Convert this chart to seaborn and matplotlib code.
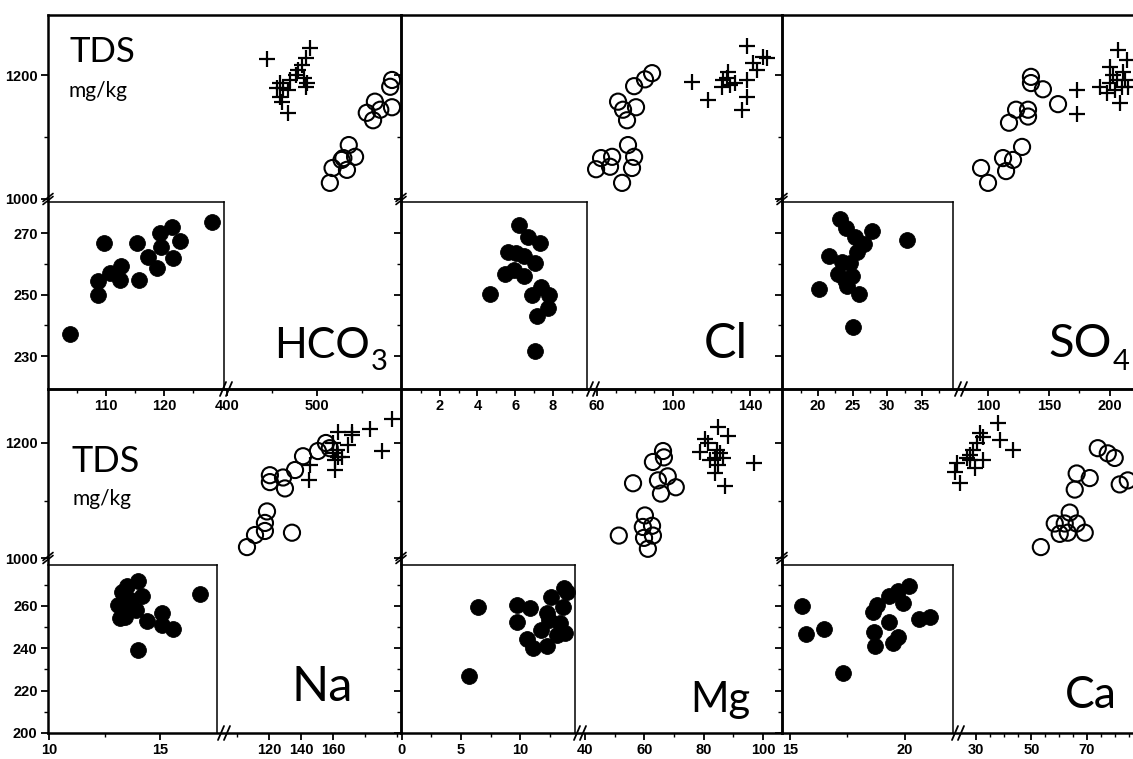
import matplotlib
matplotlib.use("Agg")
import matplotlib.pyplot as plt
import seaborn as sns
import pandas as pd
from matplotlib.lines import Line2D

# ------------------------------------------------------------------ data
# HCO3 panel
hco3_cross_x = [444, 492, 487, 483, 479, 476, 470, 459, 462, 467, 459, 461, 467, 489, 487, 455, 485]
hco3_cross_tds = [1226, 1243, 1227, 1216, 1208, 1200, 1192, 1187, 1179, 1176, 1165, 1157, 1139, 1187, 1181, 1179, 1195]
hco3_open_x = [583, 581, 583, 564, 555, 562, 570, 535, 542, 527, 533, 517, 514, 529]
hco3_open_tds = [1192, 1181, 1148, 1157, 1139, 1127, 1144, 1087, 1068, 1063, 1047, 1050, 1026, 1066]
hco3_fill_x = [103.8, 108.6, 108.6, 109.7, 110.6, 112.6, 112.4, 115.4, 115.6, 117.3, 118.8, 119.3, 119.5, 121.3, 121.5, 122.8, 128.3]
hco3_fill_y = [237.1, 249.8, 254.4, 266.7, 257.0, 259.3, 254.7, 266.7, 254.7, 262.2, 258.6, 270.0, 265.4, 272.0, 261.9, 267.4, 273.6]

# Cl panel
cl_cross_x = [138.5, 109.7, 118.1, 135.9, 138.5, 138.5, 128.6, 126.0, 125.4, 129.6, 132.3, 141.7, 143.8, 146.9, 149.0, 128.0]
cl_cross_tds = [1247, 1189, 1160, 1144, 1165, 1192, 1205, 1192, 1181, 1184, 1187, 1219, 1208, 1229, 1227, 1195]
cl_open_x = [88.8, 85.1, 79.4, 71.0, 73.6, 80.4, 75.7, 76.2, 79.4, 78.3, 67.9, 66.8, 62.1, 59.5, 73.1]
cl_open_tds = [1203, 1193, 1182, 1157, 1144, 1148, 1127, 1087, 1068, 1050, 1068, 1052, 1066, 1048, 1026]
cl_fill_x = [6.22, 6.65, 7.29, 5.64, 6.06, 6.44, 7.02, 5.48, 5.96, 6.49, 4.68, 6.91, 7.39, 7.77, 7.71, 7.13, 7.02]
cl_fill_y = [272.6, 268.7, 266.7, 263.8, 263.5, 262.5, 260.2, 256.6, 258.0, 256.0, 250.1, 249.8, 252.4, 249.8, 245.6, 243.0, 231.6]

# SO4 panel
so4_cross_x = [173, 173, 191.8, 197.5, 200, 206.6, 213.9, 208, 205.7, 209.8, 202.5, 212.3, 200, 210.7, 204, 214.8]
so4_cross_tds = [1176, 1137, 1181, 1171, 1213, 1240, 1224, 1155, 1192, 1181, 1200, 1192, 1187, 1205, 1176, 1181]
so4_open_x = [135.2, 135.2, 145.0, 157.4, 123.0, 132.8, 132.8, 117.2, 127.9, 120.5, 112.3, 114.8, 94.3, 100.0]
so4_open_tds = [1197, 1187, 1177, 1153, 1144, 1144, 1133, 1123, 1084, 1063, 1066, 1045, 1050, 1026]
so4_fill_x = [23.2, 24.1, 27.8, 32.8, 25.4, 26.7, 25.7, 21.6, 23.5, 24.6, 22.9, 24.9, 23.9, 24.2, 20.1, 25.9, 25.1]
so4_fill_y = [274.6, 271.6, 270.7, 267.7, 268.7, 266.4, 263.8, 262.5, 260.6, 260.2, 256.6, 256.0, 254.7, 252.7, 251.8, 250.1, 239.4]

# Na panel
na_cross_x = [145.6, 145.0, 161.3, 161.3, 160.0, 163.0, 165.6, 162.5, 160.0, 163.0, 169.4, 171.9, 171.9, 183.1, 190.6, 196.9]
na_cross_tds = [1161, 1135, 1153, 1170, 1182, 1175, 1175, 1188, 1200, 1219, 1196, 1219, 1214, 1225, 1186, 1242]
na_open_x = [106.3, 111.3, 117.5, 117.5, 118.8, 134.4, 120.6, 120.6, 128.8, 130.0, 136.3, 141.3, 150.6, 155.6, 158.0]
na_open_tds = [1019, 1040, 1047, 1061, 1081, 1044, 1144, 1132, 1140, 1121, 1153, 1177, 1186, 1200, 1191]
na_fill_x = [14.0, 13.5, 13.3, 14.2, 13.7, 13.1, 13.6, 13.9, 13.2, 13.4, 14.4, 15.1, 15.1, 15.6, 16.8, 14.0]
na_fill_y = [271.7, 269.4, 266.6, 264.7, 262.8, 260.5, 260.5, 258.1, 254.4, 254.8, 253.0, 256.7, 251.1, 249.2, 265.6, 239.3]

# Mg panel
mg_cross_x = [84.8, 88.1, 80.4, 78.7, 84.4, 82.1, 83.8, 86.5, 84.8, 83.8, 87.1, 96.9, 81.4, 85.5]
mg_cross_tds = [1228, 1212, 1207, 1184, 1188, 1170, 1174, 1174, 1161, 1147, 1126, 1165, 1200, 1182]
mg_open_x = [66.3, 66.6, 62.9, 56.2, 64.6, 67.9, 70.6, 65.6, 60.2, 62.6, 59.5, 62.9, 59.9, 51.4, 61.2]
mg_open_tds = [1186, 1175, 1167, 1130, 1135, 1142, 1123, 1112, 1074, 1056, 1054, 1039, 1035, 1039, 1016]
mg_fill_x = [6.4, 5.7, 9.75, 10.8, 9.7, 12.6, 13.7, 13.9, 13.6, 12.25, 12.4, 13.3, 11.7, 13.1, 13.75, 10.6, 11.1, 12.25]
mg_fill_y = [259.5, 227.1, 260.5, 259.1, 252.5, 264.2, 268.5, 266.6, 259.5, 256.7, 253.4, 252.0, 248.7, 246.4, 247.3, 244.5, 240.3, 241.2]

# Ca panel
ca_cross_x = [37.9, 38.6, 43.3, 31.4, 32.5, 28.9, 27.8, 26.8, 32.5, 29.6, 23.2, 22.4, 24.2, 27.8, 30.4]
ca_cross_tds = [1235, 1205, 1188, 1218, 1211, 1188, 1179, 1174, 1170, 1156, 1165, 1149, 1130, 1170, 1200]
ca_open_x = [73.9, 77.5, 80.0, 81.8, 84.7, 66.3, 71.0, 65.6, 63.8, 58.4, 62.0, 66.3, 60.2, 63.1, 69.2, 53.4]
ca_open_tds = [1191, 1182, 1174, 1128, 1135, 1147, 1139, 1119, 1079, 1060, 1060, 1060, 1042, 1044, 1044, 1019]
ca_fill_x = [15.5, 15.7, 16.5, 17.3, 18.6, 18.8, 19.3, 19.7, 20.2, 19.9, 19.3, 18.65, 18.7, 19.5, 19.7, 20.6, 21.1]
ca_fill_y = [260.0, 246.9, 249.2, 228.1, 257.2, 260.5, 264.7, 267.0, 269.4, 261.4, 252.5, 247.8, 240.8, 242.6, 245.4, 253.9, 254.8]

# tick values
tds_major = [1000, 1200]
tds_minor = [1100]
row1_inset_major = [230, 250, 270]
row1_inset_minor = [240, 260]
row2_inset_major = [200, 220, 240, 260]
row2_inset_minor = [210, 230, 250, 270]

hco3_in_major, hco3_in_minor = [110, 120], [105, 115, 125]
hco3_big_major, hco3_big_minor = [400, 500], [450, 550]
cl_in_major, cl_in_minor = [2, 4, 6, 8], [1, 3, 5, 7, 9]
cl_big_major, cl_big_minor = [60, 100, 140], [70, 80, 90, 110, 120, 130, 150]
so4_in_major, so4_in_minor = [20, 25, 30, 35], [17.5, 22.5, 27.5, 32.5, 37.5]
so4_big_major, so4_big_minor = [100, 150, 200], [125, 175, 225]
na_in_major, na_in_minor = [10, 15], [12.5]
na_big_major, na_big_minor = [120, 140, 160], [100, 180, 200]
mg_in_major, mg_in_minor = [0, 5, 10], [2.5, 7.5, 12.5]
mg_big_major, mg_big_minor = [40, 60, 80, 100], [50, 70, 90]
ca_in_major, ca_in_minor = [15, 20], [17.5]
ca_big_major, ca_big_minor = [30, 50, 70], [35, 40, 45, 55, 60, 65, 75, 80, 85, 90, 95]

# ------------------------------------------------------------------ style
sns.set_theme(style="ticks")
TICKFONT = ["Liberation Sans Narrow", "Liberation Sans", "DejaVu Sans"]
LABELFONT = ["Lato", "DejaVu Sans"]
plt.rcParams["font.family"] = TICKFONT
plt.rcParams["text.color"] = "black"

W, H = 1133, 759
fig = plt.figure(figsize=(W / 100, H / 100), dpi=100)
fig.patch.set_facecolor("white")


def rect(x0, x1, y0, y1):
    return [x0 / W, 1 - y1 / H, (x1 - x0) / W, (y1 - y0) / H]


def fline(xs, ys, lw=1.3):
    fig.add_artist(Line2D([x / W for x in xs], [1 - y / H for y in ys],
                          transform=fig.transFigure, color="black", lw=lw))


col_edges = [48, 401, 782, 1160]
rows = [
    dict(top=15, bottom=389, brk=199, inset_top=202, big_ylim=(693.5, 1296.8),
         in_ylim=(219.3, 280.1), in_major=row1_inset_major, in_minor=row1_inset_minor),
    dict(top=389, bottom=733, brk=558, inset_top=565, big_ylim=(695.7, 1293.9),
         in_ylim=(200.0, 279.2), in_major=row2_inset_major, in_minor=row2_inset_minor),
]

panels = [
    dict(row=0, col=0, cx=hco3_cross_x, cy=hco3_cross_tds, ox=hco3_open_x, oy=hco3_open_tds,
         fx=hco3_fill_x, fy=hco3_fill_y, big_xlim=(201, 593), in_xlim=(100, 130.3), in_right=224,
         brk_x=226, in_major=hco3_in_major, in_minor=hco3_in_minor,
         big_major=hco3_big_major, big_minor=hco3_big_minor),
    dict(row=0, col=1, cx=cl_cross_x, cy=cl_cross_tds, ox=cl_open_x, oy=cl_open_tds,
         fx=cl_fill_x, fy=cl_fill_y, big_xlim=(-42.6, 156.8), in_xlim=(-0.05, 9.8), in_right=587,
         brk_x=593, in_major=cl_in_major, in_minor=cl_in_minor,
         big_major=cl_big_major, big_minor=cl_big_minor),
    dict(row=0, col=2, cx=so4_cross_x, cy=so4_cross_tds, ox=so4_open_x, oy=so4_open_tds,
         fx=so4_fill_x, fy=so4_fill_y, big_xlim=(-68.9, 241), in_xlim=(14.8, 39.5), in_right=953,
         brk_x=961, in_major=so4_in_major, in_minor=so4_in_minor,
         big_major=so4_big_major, big_minor=so4_big_minor),
    dict(row=1, col=0, cx=na_cross_x, cy=na_cross_tds, ox=na_open_x, oy=na_open_tds,
         fx=na_fill_x, fy=na_fill_y, big_xlim=(-18, 202.5), in_xlim=(9.95, 17.57), in_right=217,
         brk_x=224, in_major=na_in_major, in_minor=na_in_minor,
         big_major=na_big_major, big_minor=na_big_minor),
    dict(row=1, col=1, cx=mg_cross_x, cy=mg_cross_tds, ox=mg_open_x, oy=mg_open_tds,
         fx=mg_fill_x, fy=mg_fill_y, big_xlim=(-22, 106.4), in_xlim=(-0.05, 14.6), in_right=575,
         brk_x=580, in_major=mg_in_major, in_minor=mg_in_minor,
         big_major=mg_big_major, big_minor=mg_big_minor),
    dict(row=1, col=2, cx=ca_cross_x, cy=ca_cross_tds, ox=ca_open_x, oy=ca_open_tds,
         fx=ca_fill_x, fy=ca_fill_y, big_xlim=(-39.8, 96.3), in_xlim=(14.65, 22.1), in_right=953,
         brk_x=958, in_major=ca_in_major, in_minor=ca_in_minor,
         big_major=ca_big_major, big_minor=ca_big_minor),
]


def fmt(v):
    return str(int(v)) if float(v).is_integer() else str(v)


def style_ticks(ax):
    ax.tick_params(which="major", direction="out", length=5, width=1.3, color="black",
                   labelsize=10.5, pad=2.5, labelcolor="black")
    ax.tick_params(which="minor", direction="out", length=3, width=1.0, color="black")
    for lab in ax.get_xticklabels() + ax.get_yticklabels():
        lab.set_fontweight("bold")
        lab.set_family(TICKFONT)


# big axes first (transparent), then insets on top
for p in panels:
    r = rows[p["row"]]
    x0, x1 = col_edges[p["col"]], col_edges[p["col"] + 1]
    ax = fig.add_axes(rect(x0, x1, r["top"], r["bottom"]))
    ax.patch.set_alpha(0)
    dfc = pd.DataFrame({"x": p["cx"], "y": p["cy"]})
    dfo = pd.DataFrame({"x": p["ox"], "y": p["oy"]})
    sns.scatterplot(data=dfo, x="x", y="y", ax=ax, marker="o", s=135,
                    facecolor="none", edgecolor="black", linewidth=1.5, legend=False, zorder=3)
    sns.scatterplot(data=dfc, x="x", y="y", ax=ax, marker="+", s=125,
                    color="black", linewidth=1.6, legend=False, zorder=3)
    ax.set_xlim(*p["big_xlim"])
    ax.set_ylim(*r["big_ylim"])
    ax.set_xlabel("")
    ax.set_ylabel("")
    ax.set_xticks(p["big_major"])
    ax.set_xticklabels([fmt(v) for v in p["big_major"]])
    ax.set_xticks(p["big_minor"], minor=True)
    ax.set_yticks(tds_major)
    ax.set_yticks(tds_minor, minor=True)
    if p["col"] == 0:
        ax.set_yticklabels([fmt(v) for v in tds_major])
    else:
        ax.set_yticklabels([])
    for s in ax.spines.values():
        s.set_linewidth(1.8)
        s.set_color("black")
    if p["col"] == 2:
        ax.spines["right"].set_visible(False)
    style_ticks(ax)

for p in panels:
    r = rows[p["row"]]
    x0 = col_edges[p["col"]]
    axi = fig.add_axes(rect(x0, p["in_right"], r["inset_top"], r["bottom"]))
    axi.patch.set_alpha(0)
    dff = pd.DataFrame({"x": p["fx"], "y": p["fy"]})
    sns.scatterplot(data=dff, x="x", y="y", ax=axi, marker="o", s=130,
                    color="black", edgecolor="black", linewidth=0.6, legend=False)
    axi.set_xlim(*p["in_xlim"])
    axi.set_ylim(*r["in_ylim"])
    axi.set_xlabel("")
    axi.set_ylabel("")
    axi.set_xticks(p["in_major"])
    axi.set_xticklabels([fmt(v) for v in p["in_major"]])
    axi.set_xticks(p["in_minor"], minor=True)
    axi.set_yticks(r["in_major"])
    axi.set_yticks(r["in_minor"], minor=True)
    if p["col"] == 0:
        axi.set_yticklabels([fmt(v) for v in r["in_major"]])
    else:
        axi.set_yticklabels([])
    axi.spines["left"].set_visible(False)
    axi.spines["bottom"].set_visible(False)
    for side in ("top", "right"):
        axi.spines[side].set_linewidth(1.1)
        axi.spines[side].set_color("black")
    style_ticks(axi)

# axis-break marks
for p in panels:
    r = rows[p["row"]]
    bx, by = p["brk_x"], r["bottom"]
    for k in (-3, 3):
        fline([bx + k - 3, bx + k + 3], [by + 7, by - 7], lw=1.3)
for r in rows:
    for c in range(3):
        x, y = col_edges[c], r["brk"]
        for k in (-1.5, 1.5):
            fline([x - 5, x + 5], [y + 4 + k, y - 4 + k], lw=1.2)


# ------------------------------------------------------------------ labels
def label(x, y, s, size, ha="right"):
    return fig.text(x / W, 1 - y / H, s, ha=ha, va="baseline", fontsize=size,
                    family=LABELFONT, fontweight="normal", color="black")


label(69, 62, "TDS", 25, ha="left")
label(69, 97, "mg/kg", 15, ha="left")
label(72, 472, "TDS", 26, ha="left")
label(72, 505, "mg/kg", 15, ha="left")

label(370, 358, "HCO", 31)
label(371, 370, "3", 21, ha="left")
label(748, 358, "Cl", 35)
label(1112, 357, "SO", 34)
label(1113, 370, "4", 21, ha="left")
label(353, 701, "Na", 35)
label(750, 712, "Mg", 30)
label(1117, 708, "Ca", 32)

fig.savefig("out.png", dpi=100)
